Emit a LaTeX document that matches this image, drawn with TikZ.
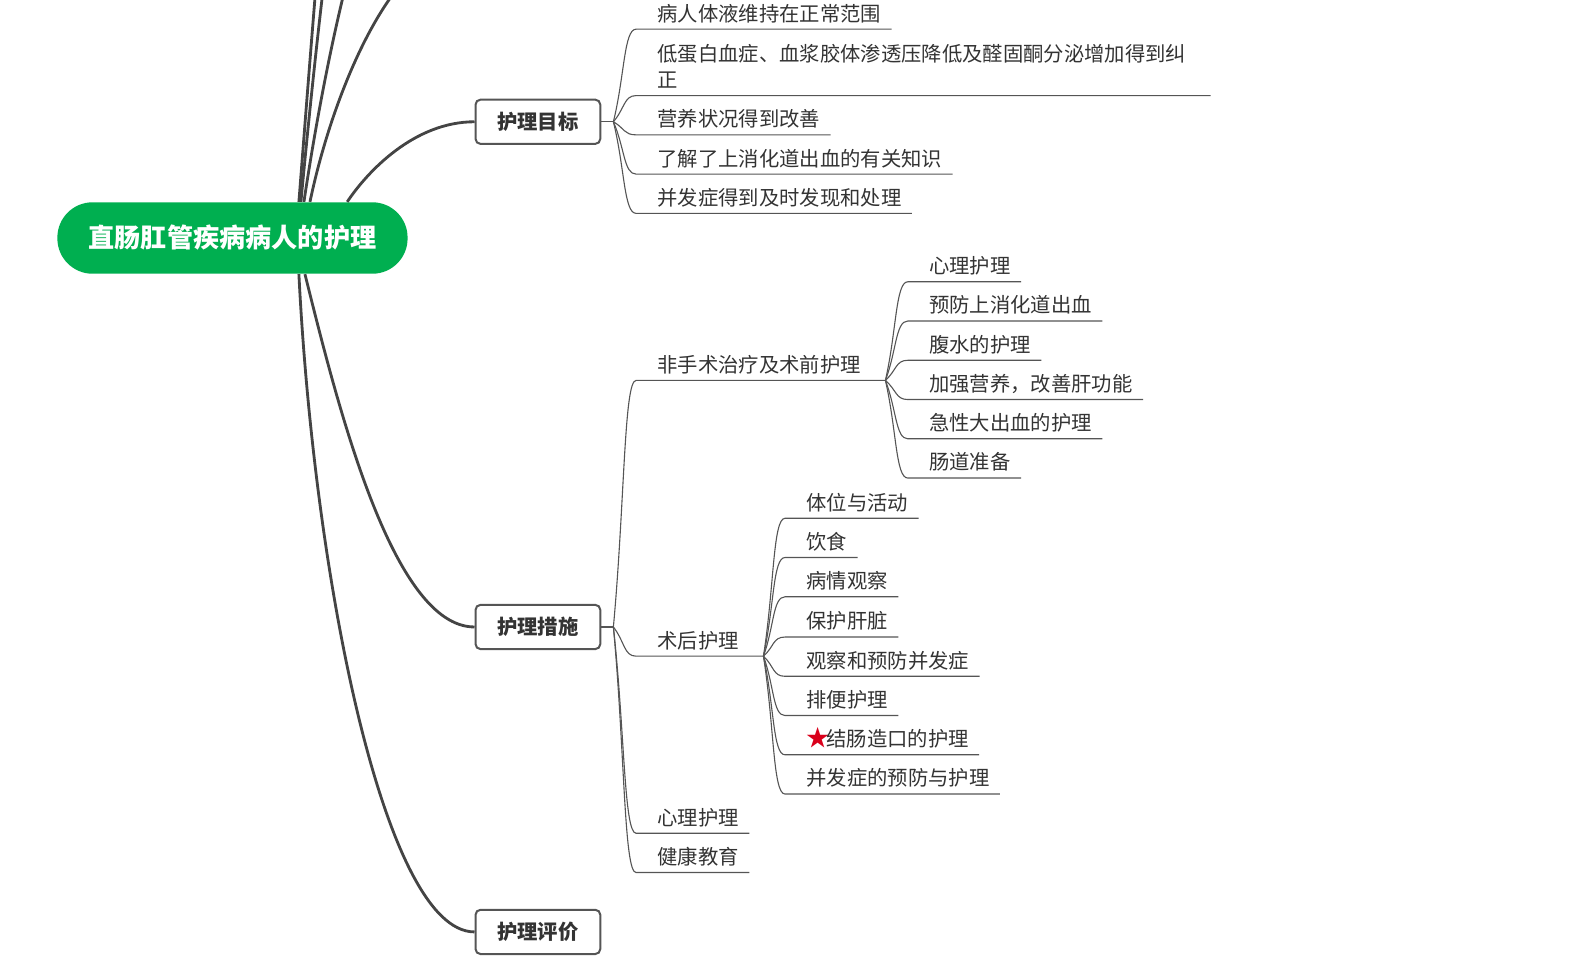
\documentclass[tikz,border=0pt]{standalone}
\usepackage{fontspec}
\setmainfont{Noto Sans CJK SC}
\usepackage{tikz}
\usetikzlibrary{calc}
\definecolor{mm-green}{HTML}{00AF50}
\definecolor{mm-line}{HTML}{444444}
\definecolor{mm-thin}{HTML}{555555}
\definecolor{mm-text}{HTML}{333333}
\definecolor{mm-star}{HTML}{D9001B}

\begin{document}
\begin{tikzpicture}[x=0.5pt, y=-0.5pt,
    root/.style={fill=mm-green, rounded corners=17.5pt, minimum width=174pt,
        minimum height=35.5pt, text=white, font=\fontsize{13pt}{15pt}\selectfont\bfseries},
    topic/.style={draw=mm-thin, line width=1pt, fill=white, rounded corners=2.5pt,
        minimum width=62pt, minimum height=22pt, text=mm-text,
        font=\fontsize{10.1pt}{12pt}\selectfont\bfseries},
    leaf/.style={anchor=south west, inner sep=0pt, text depth=3.8pt, text=mm-text,
        font=\fontsize{10.1pt}{13pt}\selectfont,
        execute at begin node={\hspace*{10.5pt}}, execute at end node={\hspace*{#1}}},
    leaf/.default=5pt,
    trunk/.style={draw=mm-line, line width=1.4pt},
    twig/.style={draw=mm-thin, line width=0.55pt}]
    \useasboundingbox (0,0) rectangle (1568,958);
    \clip (0,0) rectangle (1568,958);

    % main topic and first level
    \node[root] (root) at (231,236.5) {直肠肛管疾病病人的护理};
    \node[topic] (goal) at (534.5,121) {护理目标};
    \node[topic] (meas) at (534.5,623) {护理措施};
    \node[topic] (eval) at (534.5,926) {护理评价};
    \coordinate (up1) at (472,-900);
    \coordinate (up2) at (472,-550);
    \coordinate (up3) at (472,-250);
    \coordinate (up4) at (472,-60);

    \draw[trunk] ([xshift=33pt]root.north) .. controls +(35,-450) and +(-90,0) .. (up1);
    \draw[trunk] ([xshift=34pt]root.north) .. controls +(30,-320) and +(-90,0) .. (up2);
    \draw[trunk] ([xshift=35.5pt]root.north) .. controls +(27,-180) and +(-85,0) .. (up3);
    \draw[trunk] ([xshift=38.5pt]root.north) .. controls +(23,-110) and +(-80,0) .. (up4);
    \draw[trunk] ([xshift=57pt]root.north) .. controls +(20,-30) and +(-60,0) .. (goal.west);
    \draw[trunk] ([xshift=36pt]root.south) .. controls +(32,128) and +(-82,0) .. (meas.west);
    \draw[trunk] ([xshift=33pt]root.south) .. controls +(15,300) and +(-90,0) .. (eval.west);

    % goals
    \node[leaf] (g1) at (632,29) {病人体液维持在正常范围};
    \node[leaf=12pt] (g2) at (632,95) {\begin{tabular}[b]{@{}l@{}}低蛋白血症、血浆胶体渗透压降低及醛固酮分泌增加得到纠\\正\end{tabular}};
    \node[leaf] (g3) at (632,134) {营养状况得到改善};
    \node[leaf] (g4) at (632,173) {了解了上消化道出血的有关知识};
    \node[leaf] (g5) at (632,212) {并发症得到及时发现和处理};

    % measures
    \node[leaf=12pt] (m1) at (632,378) {非手术治疗及术前护理};
    \node[leaf=12pt] (m2) at (632,652) {术后护理};
    \node[leaf] (m3) at (632,828) {心理护理};
    \node[leaf] (m4) at (632,867) {健康教育};

    \node[leaf] (n1) at (902,280) {心理护理};
    \node[leaf] (n2) at (902,319) {预防上消化道出血};
    \node[leaf] (n3) at (902,358) {腹水的护理};
    \node[leaf] (n4) at (902,397) {加强营养，改善肝功能};
    \node[leaf] (n5) at (902,436) {急性大出血的护理};
    \node[leaf] (n6) at (902,475) {肠道准备};

    \node[leaf] (p1) at (780,515) {体位与活动};
    \node[leaf] (p2) at (780,554) {饮食};
    \node[leaf] (p3) at (780,593) {病情观察};
    \node[leaf] (p4) at (780,633) {保护肝脏};
    \node[leaf] (p5) at (780,672) {观察和预防并发症};
    \node[leaf] (p6) at (780,711) {排便护理};
    \node[leaf] (p7) at (780,750) {{\color{mm-star}\fontsize{11.5pt}{13pt}\selectfont★}\hspace{-1.6pt}结肠造口的护理};
    \node[leaf] (p8) at (780,789) {并发症的预防与护理};

    \coordinate (b1) at ([xshift=6pt]goal.east);
    \coordinate (b2) at ([xshift=6pt]meas.east);
    \coordinate (b3) at (m1.south east);
    \coordinate (b4) at (m2.south east);
    \draw[twig] (goal.east) -- (b1);
    \draw[twig] (meas.east) -- (b2);

    \foreach \b/\t in {b1/g1,b1/g2,b1/g3,b1/g4,b1/g5,b2/m1,b2/m2,b2/m3,b2/m4,
                       b3/n1,b3/n2,b3/n3,b3/n4,b3/n5,b3/n6,
                       b4/p1,b4/p2,b4/p3,b4/p4,b4/p5,b4/p6,b4/p7,b4/p8}
        \draw[twig] (\b) .. controls ($(\b)!0.5!(\t.south west)$) and +(-12,0) .. (\t.south west) -- (\t.south east);
\end{tikzpicture}
\end{document}
